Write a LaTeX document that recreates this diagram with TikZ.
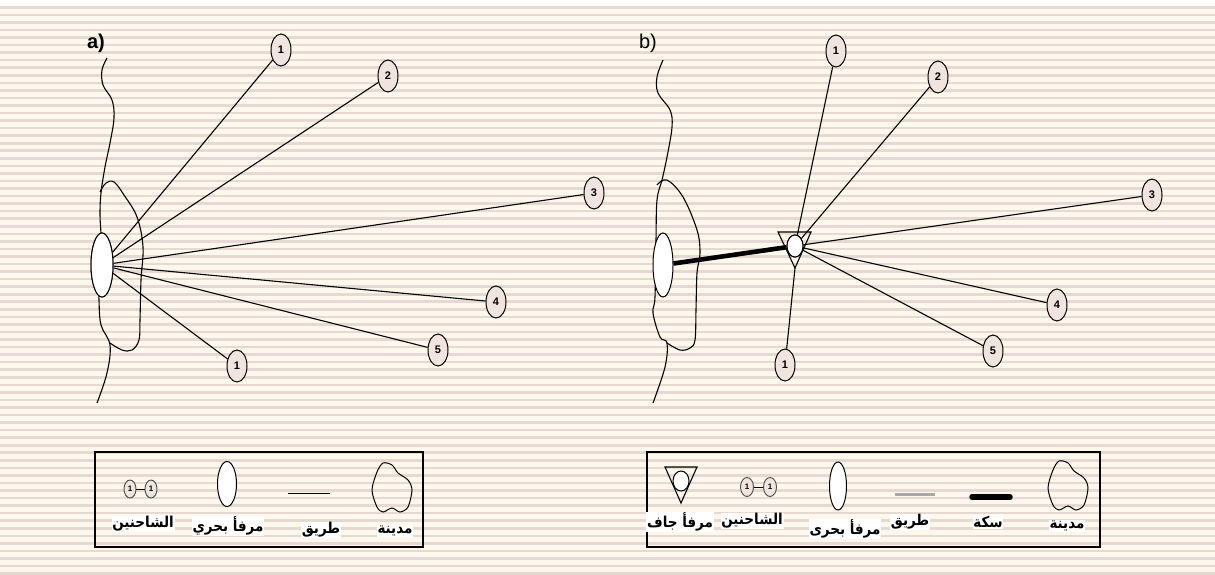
\documentclass[tikz,border=0pt]{standalone}
\usepackage{fontspec}
\usetikzlibrary{shapes.geometric}
\setmainfont{Liberation Sans}
\newfontfamily\arabicfont[Script=Arabic,FakeStretch=0.9]{DejaVu Sans}
\TeXXeTstate=1
\definecolor{bgcream}{HTML}{FEF8EC}
\definecolor{stripe}{HTML}{E6D9D3}
\definecolor{ovalfill}{HTML}{F0E4DE}
\definecolor{roadgray}{HTML}{A8A8A8}
\begin{document}
\begin{tikzpicture}[x=1pt,y=-1pt,
  numnode/.style={ellipse, draw, line width=1pt, fill=ovalfill, minimum width=20pt, minimum height=32pt, inner sep=0pt, font=\fontsize{11}{11}\selectfont\bfseries},
  cpl/.style={ellipse, draw=black!70, line width=0.9pt, fill=ovalfill, minimum width=12pt, minimum height=18pt, inner sep=0pt, font=\fontsize{8}{8}\selectfont\bfseries},
  port/.style={ellipse, draw, line width=1pt, fill=white, minimum width=22pt, minimum height=64pt, inner sep=0pt},
  dryc/.style={ellipse, draw, line width=1pt, fill=white, minimum width=16pt, minimum height=22pt, inner sep=0pt},
  link/.style={draw, line width=1.1pt},
  rail/.style={draw, line width=4.6pt},
  coast/.style={draw, line width=1.1pt},
  lab/.style={fill=white, inner sep=0.8pt, font=\arabicfont\bfseries\fontsize{15}{17}\selectfont},
  panel/.style={font=\fontsize{20}{20}\selectfont}
]
\useasboundingbox (0,0) rectangle (1215,574);
\fill[white] (0,0) rectangle (1215,574);
\fill[bgcream] (0,5) rectangle (1215,574);
\foreach \i in {0,...,75} {
  \fill[stripe] (0,{6+7.55*\i}) rectangle (1215,{8.6+7.55*\i});
}

% ---------------- panel a ----------------
\node[panel, font=\fontsize{20}{20}\selectfont\bfseries] (la) at (96,43) {a)};
\draw[coast] plot[smooth, tension=0.6] coordinates {(107,58) (102,70) (103,85) (112,100) (114,118) (110,143) (105,167) (101,193) (100,215) (101,240) (99,280) (99,300) (101,325) (110,345) (107,373) (97,403)};
\draw[coast] plot[smooth, tension=0.6] coordinates {(100,192) (106,183) (114,182) (124,195) (137,217) (143,247) (141,280) (140,320) (139,340) (132,350) (122,350) (110,343)};
\node[port] (portA) at (102,265) {};
\node[numnode] (a1) at (281,50) {1};
\node[numnode] (a2) at (388,76) {2};
\node[numnode] (a3) at (594,193) {3};
\node[numnode] (a4) at (496,302) {4};
\node[numnode] (a5) at (438,350) {5};
\node[numnode] (a6) at (237,366) {1};
\foreach \t in {a1,a2,a3,a4,a5,a6} { \draw[link] (portA) -- (\t); }
\node[port] at (102,265) {};

% ---------------- panel b ----------------
\node[panel] (lb) at (648,43) {b)};
\draw[coast] plot[smooth, tension=0.6] coordinates {(663,60) (657,77) (658,93) (670,110) (672,127) (667,157) (662,180) (657,200) (656,240) (655,297) (653,313) (660,337) (667,343) (665,367) (653,403)};
\draw[coast] plot[smooth, tension=0.6] coordinates {(657,185) (667,180) (683,197) (697,230) (700,253) (697,273) (696,310) (695,340) (690,348) (680,350) (667,343)};
\node[port, minimum width=20pt] (portB) at (663,265) {};
\draw[line width=1.1pt] (778,232) -- (811,232) -- (795,268) -- cycle;
\coordinate (apex) at (795,268);
\node[dryc] (dp) at (795,246) {};
\node[numnode] (b1) at (836,51) {1};
\node[numnode] (b2) at (938,77) {2};
\node[numnode] (b3) at (1152,195) {3};
\node[numnode] (b4) at (1057,305) {4};
\node[numnode] (b5) at (993,351) {5};
\node[numnode] (b6) at (785,365) {1};
\foreach \t in {b1,b2,b3,b4,b5} { \draw[link] (dp) -- (\t); }
\draw[link] (apex) -- (b6);
\draw[rail] (portB) -- (dp);
\node[dryc] at (795,246) {};

% ---------------- legend a ----------------
\draw[line width=2.4pt] (95,452) rectangle (423,547);
\node[cpl] (ca1) at (130,489) {1};
\node[cpl] (ca2) at (151,489) {1};
\draw[line width=0.9pt] (ca1) -- (ca2);
\node[lab] (ta1) at (143,524) {\beginR الشاحنين\endR};
\node[port, minimum width=19pt, minimum height=45pt] (lpa) at (227,484) {};
\node[lab] (ta2) at (228,526) {\beginR مرفأ بحري\endR};
\coordinate (ra1) at (288,493); \coordinate (ra2) at (330,493);
\draw[line width=1pt] (ra1) -- (ra2);
\node[lab] (ta3) at (321,530) {\beginR طريق\endR};
\draw[line width=1pt] plot[smooth cycle, tension=0.5] coordinates {(377,472) (383,463) (392,465) (398,473) (408,480) (412,490) (408,507) (400,512) (392,508) (383,512) (377,507) (372,490)};
\node[lab] (ta4) at (395,531) {\beginR مدينة\endR};

% ---------------- legend b ----------------
\draw[line width=2.4pt] (647,452) rectangle (1100,547);
\draw[line width=1.1pt] (665,467) -- (697,467) -- (681,503) -- cycle;
\node[dryc, minimum width=16pt, minimum height=20pt] (ldp) at (681,481) {};
\node[lab] (tb1) at (680,522) {\beginR مرفأ جاف\endR};
\node[cpl, minimum width=13pt, minimum height=19pt] (cb1) at (747,487) {1};
\node[cpl, minimum width=13pt, minimum height=19pt] (cb2) at (770,487) {1};
\draw[line width=0.9pt] (cb1) -- (cb2);
\node[lab] (tb2) at (752,521) {\beginR الشاحنين\endR};
\node[port, minimum width=17pt, minimum height=48pt] (lpb) at (838,486) {};
\node[lab] (tb3) at (845,529) {\beginR مرفأ بحرى\endR};
\coordinate (rb1) at (895,494); \coordinate (rb2) at (935,494);
\draw[line width=3pt, roadgray] (rb1) -- (rb2);
\node[lab] (tb4) at (910,522) {\beginR طريق\endR};
\coordinate (sb1) at (972,497); \coordinate (sb2) at (1010,497);
\draw[line width=5.5pt, line cap=round] (sb1) -- (sb2);
\node[lab] (tb5) at (988,522) {\beginR سكة\endR};
\draw[line width=1pt, shift={(676,-2)}] plot[smooth cycle, tension=0.5] coordinates {(377,472) (383,463) (392,465) (398,473) (408,480) (412,490) (408,507) (400,512) (392,508) (383,512) (377,507) (372,490)};
\node[lab] (tb6) at (1067,526) {\beginR مدينة\endR};
\end{tikzpicture}
\end{document}
